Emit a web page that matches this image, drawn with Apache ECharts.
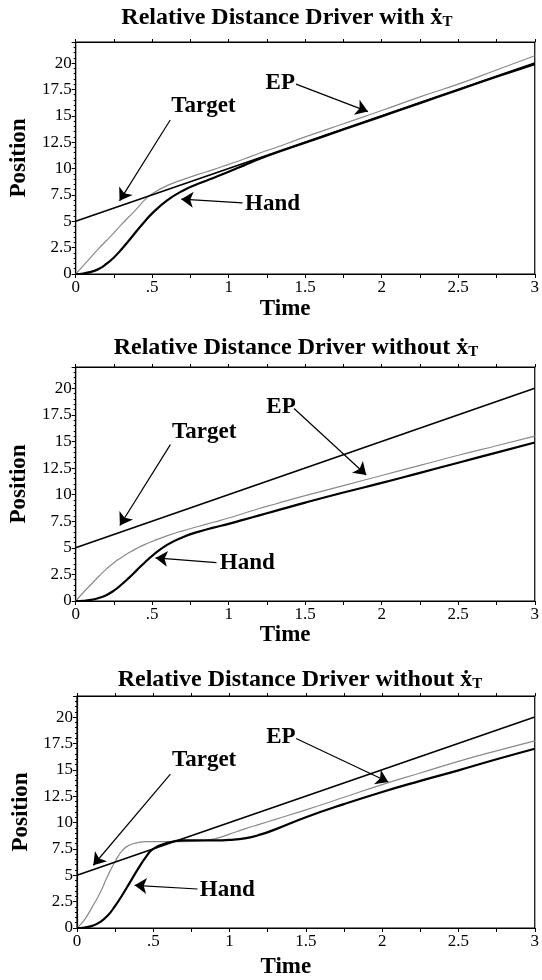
<!DOCTYPE html>
<html><head><meta charset="utf-8">
<script src="https://cdn.jsdelivr.net/npm/echarts@6/dist/echarts.min.js"></script>
<style>html,body{margin:0;padding:0;background:#fff}#c{width:542px;height:980px}</style>
</head><body><div id="c"></div><script>
// ---- data ----
const time = [0,0.05,0.1,0.15,0.2,0.25,0.3,0.35,0.4,0.45,0.5,0.6,0.7,0.8,0.9,1.0,1.1,1.2,1.3,1.5,1.75,2.0,2.25,2.5,2.75,3.0];
const targetTime = [0, 3];

// Panel 1: Relative Distance Driver with x-dot_T
const targetWith = [5, 20];
const handWith = [0,0.05,0.2,0.47,0.95,1.57,2.35,3.2,4.1,4.95,5.75,7.0,7.9,8.55,9.1,9.7,10.3,10.9,11.45,12.45,13.7,14.95,16.2,17.45,18.7,19.9];
const epWith   = [0,0.8,1.6,2.4,3.15,3.9,4.7,5.45,6.2,7.0,7.6,8.4,8.95,9.45,9.9,10.4,10.9,11.45,11.95,13.0,14.25,15.5,16.8,18.0,19.35,20.7];

// Panel 2: Relative Distance Driver without x-dot_T
const targetWithoutA = [5, 20];
const handWithoutA = [0,0.02,0.1,0.28,0.55,0.98,1.55,2.2,2.9,3.6,4.25,5.3,6.0,6.5,6.9,7.25,7.65,8.05,8.45,9.25,10.2,11.1,12.05,13.0,13.95,14.9];
const epWithoutA   = [0,0.8,1.55,2.3,3.0,3.6,4.1,4.55,4.95,5.3,5.6,6.15,6.6,7.0,7.4,7.8,8.25,8.7,9.1,9.9,10.85,11.8,12.75,13.7,14.6,15.5];

// Panel 3: Relative Distance Driver without x-dot_T (second case)
const targetWithoutB = [5, 20];
const handWithoutB = [0,0.05,0.2,0.55,1.15,2.1,3.2,4.4,5.6,6.7,7.5,8.1,8.3,8.3,8.3,8.35,8.5,8.85,9.35,10.5,11.75,12.9,13.95,14.95,16.0,17.0];
const epWithoutB   = [0,0.8,2.0,3.3,4.9,6.3,7.4,7.9,8.1,8.2,8.2,8.2,8.2,8.25,8.45,8.9,9.4,9.85,10.3,11.2,12.4,13.6,14.7,15.8,16.8,17.75];

const xTickLabels = {0:'0', 0.5:'.5', 1:'1', 1.5:'1.5', 2:'2', 2.5:'2.5', 3:'3'};
const yTickLabels = ['0','2.5','5','7.5','10','12.5','15','17.5','20'];
const titleTexts = ['Relative Distance Driver with ', 'Relative Distance Driver without ', 'Relative Distance Driver without '];

// annotation anchor points in data units (time, position)
const annotations = [
  { target:{text:[0.835,15.9], from:[0.618,14.6], to:[0.287,6.94]},
    ep:{text:[1.337,18.1], from:[1.44,18.0], to:[1.91,15.4]},
    hand:{text:[1.287,6.65], from:[1.09,6.75], to:[0.69,7.1]} },
  { target:{text:[0.84,15.9], from:[0.619,14.7], to:[0.289,7.1]},
    ep:{text:[1.342,18.2], from:[1.427,18.1], to:[1.899,11.85]},
    hand:{text:[1.122,3.6], from:[0.92,3.6], to:[0.522,4.05]} },
  { target:{text:[0.833,15.9], from:[0.612,14.6], to:[0.107,5.95]},
    ep:{text:[1.336,18.06], from:[1.436,17.97], to:[2.04,13.84]},
    hand:{text:[0.985,3.6], from:[0.79,3.7], to:[0.378,4.05]} }
];

// ---- layout / style ----
const FONT = "'Liberation Serif','DejaVu Serif',serif";
const grids = [
  {left:75, top:42, width:466, height:232, show:true, borderColor:'#000', borderWidth:1.2},
  {left:75, top:367, width:466, height:234, show:true, borderColor:'#000', borderWidth:1.2},
  {left:77, top:696, width:464, height:233, show:true, borderColor:'#000', borderWidth:1.2}
];
const timeGaps = [24, 20, 28];
const titlePos = [[287,6],[296,336],[300,668]];

const panelData = [
  {target:targetWith, hand:handWith, ep:epWith},
  {target:targetWithoutA, hand:handWithoutA, ep:epWithoutA},
  {target:targetWithoutB, hand:handWithoutB, ep:epWithoutB}
];

const xAxes = [], yAxes = [], series = [], graphics = [];
const zip = (xs, ys) => xs.map((x, k) => [x, ys[k]]);
const labelStyle = {fontFamily:FONT, fontWeight:'bold', fontSize:23, color:'#000'};

panelData.forEach((p, i) => {
  xAxes.push({
    gridIndex:i, type:'value', min:0, max:3, interval:0.5, position:'bottom',
    axisLine:{show:true, onZero:false, lineStyle:{color:'#000', width:1.2}},
    axisTick:{show:true, length:4, lineStyle:{color:'#000'}},
    minorTick:{show:true, splitNumber:2, length:4, lineStyle:{color:'#000'}},
    splitLine:{show:false}, minorSplitLine:{show:false},
    axisLabel:{formatter:v => (xTickLabels[v] !== undefined ? xTickLabels[v] : ''), fontFamily:FONT, fontSize:17, color:'#000', margin:5},
    name:'Time', nameLocation:'middle', nameGap:timeGaps[i],
    nameTextStyle:Object.assign({padding:[0,40,0,0]}, labelStyle)
  });
  xAxes.push({
    gridIndex:i, type:'value', min:0, max:3, interval:0.25, position:'top',
    axisLine:{show:true, onZero:false, lineStyle:{color:'#000', width:1.2}},
    axisTick:{show:true, length:3, lineStyle:{color:'#000'}},
    axisLabel:{show:false}, splitLine:{show:false}
  });
  yAxes.push({
    gridIndex:i, type:'value', min:0, max:22, interval:2.5,
    axisLine:{show:true, onZero:false, lineStyle:{color:'#000', width:1.2}},
    axisTick:{show:true, length:4, lineStyle:{color:'#000'}},
    minorTick:{show:true, splitNumber:5, length:2, lineStyle:{color:'#000'}},
    splitLine:{show:false}, minorSplitLine:{show:false},
    axisLabel:{formatter:v => { const k = Math.round(v/2.5); return (Math.abs(v - k*2.5) < 1e-6 && yTickLabels[k]) ? yTickLabels[k] : ''; },
      fontFamily:FONT, fontSize:17, color:'#000', margin:4},
    name:'Position', nameLocation:'middle', nameGap:38, nameRotate:90,
    nameTextStyle:labelStyle
  });
  const a = annotations[i];
  series.push({
    type:'line', name:'EP', xAxisIndex:2*i, yAxisIndex:i, data:zip(time, p.ep),
    showSymbol:false, smooth:0.5,
    lineStyle:{color:'#8a8a8a', width:1.2}, z:2
  });
  series.push({
    type:'line', name:'Target', xAxisIndex:2*i, yAxisIndex:i, data:zip(targetTime, p.target),
    showSymbol:false, lineStyle:{color:'#000', width:1.6}, z:3,
    markLine:{
      silent:true, symbol:['none','arrow'], symbolSize:12, precision:4,
      label:{show:false}, lineStyle:{color:'#000', width:1.2, type:'solid'},
      itemStyle:{color:'#000'},
      data:['target','ep','hand'].map(k => [{coord:a[k].from}, {coord:a[k].to}])
    },
    markPoint:{
      silent:true, symbol:'rect', symbolSize:1, itemStyle:{color:'rgba(0,0,0,0)'},
      label:Object.assign({show:true, position:'inside', formatter:'{b}'}, labelStyle),
      data:[['target','Target'],['ep','EP'],['hand','Hand']].map(([k,n]) => ({name:n, coord:a[k].text}))
    }
  });
  series.push({
    type:'line', name:'Hand', xAxisIndex:2*i, yAxisIndex:i, data:zip(time, p.hand),
    showSymbol:false, smooth:0.5,
    lineStyle:{color:'#000', width:2.2}, z:4
  });
  graphics.push({
    type:'text', x:titlePos[i][0], y:titlePos[i][1],
    style:{
      text:'{m|' + titleTexts[i] + '}{m|ẋ}{s|T}',
      align:'center', verticalAlign:'top', fill:'#000',
      rich:{
        m:{fontSize:24, fontWeight:'bold', fontFamily:FONT, lineHeight:24, verticalAlign:'top'},
        s:{fontSize:15, fontWeight:'bold', fontFamily:FONT, lineHeight:15, verticalAlign:'bottom', padding:[20,0,0,0]}
      }
    }
  });
});

const chart = echarts.init(document.getElementById('c'), null, {renderer:'canvas'});
chart.setOption({
  animation:false,
  backgroundColor:'#fff',
  grid:grids, xAxis:xAxes, yAxis:yAxes, series:series, graphic:graphics
});
</script></body></html>
